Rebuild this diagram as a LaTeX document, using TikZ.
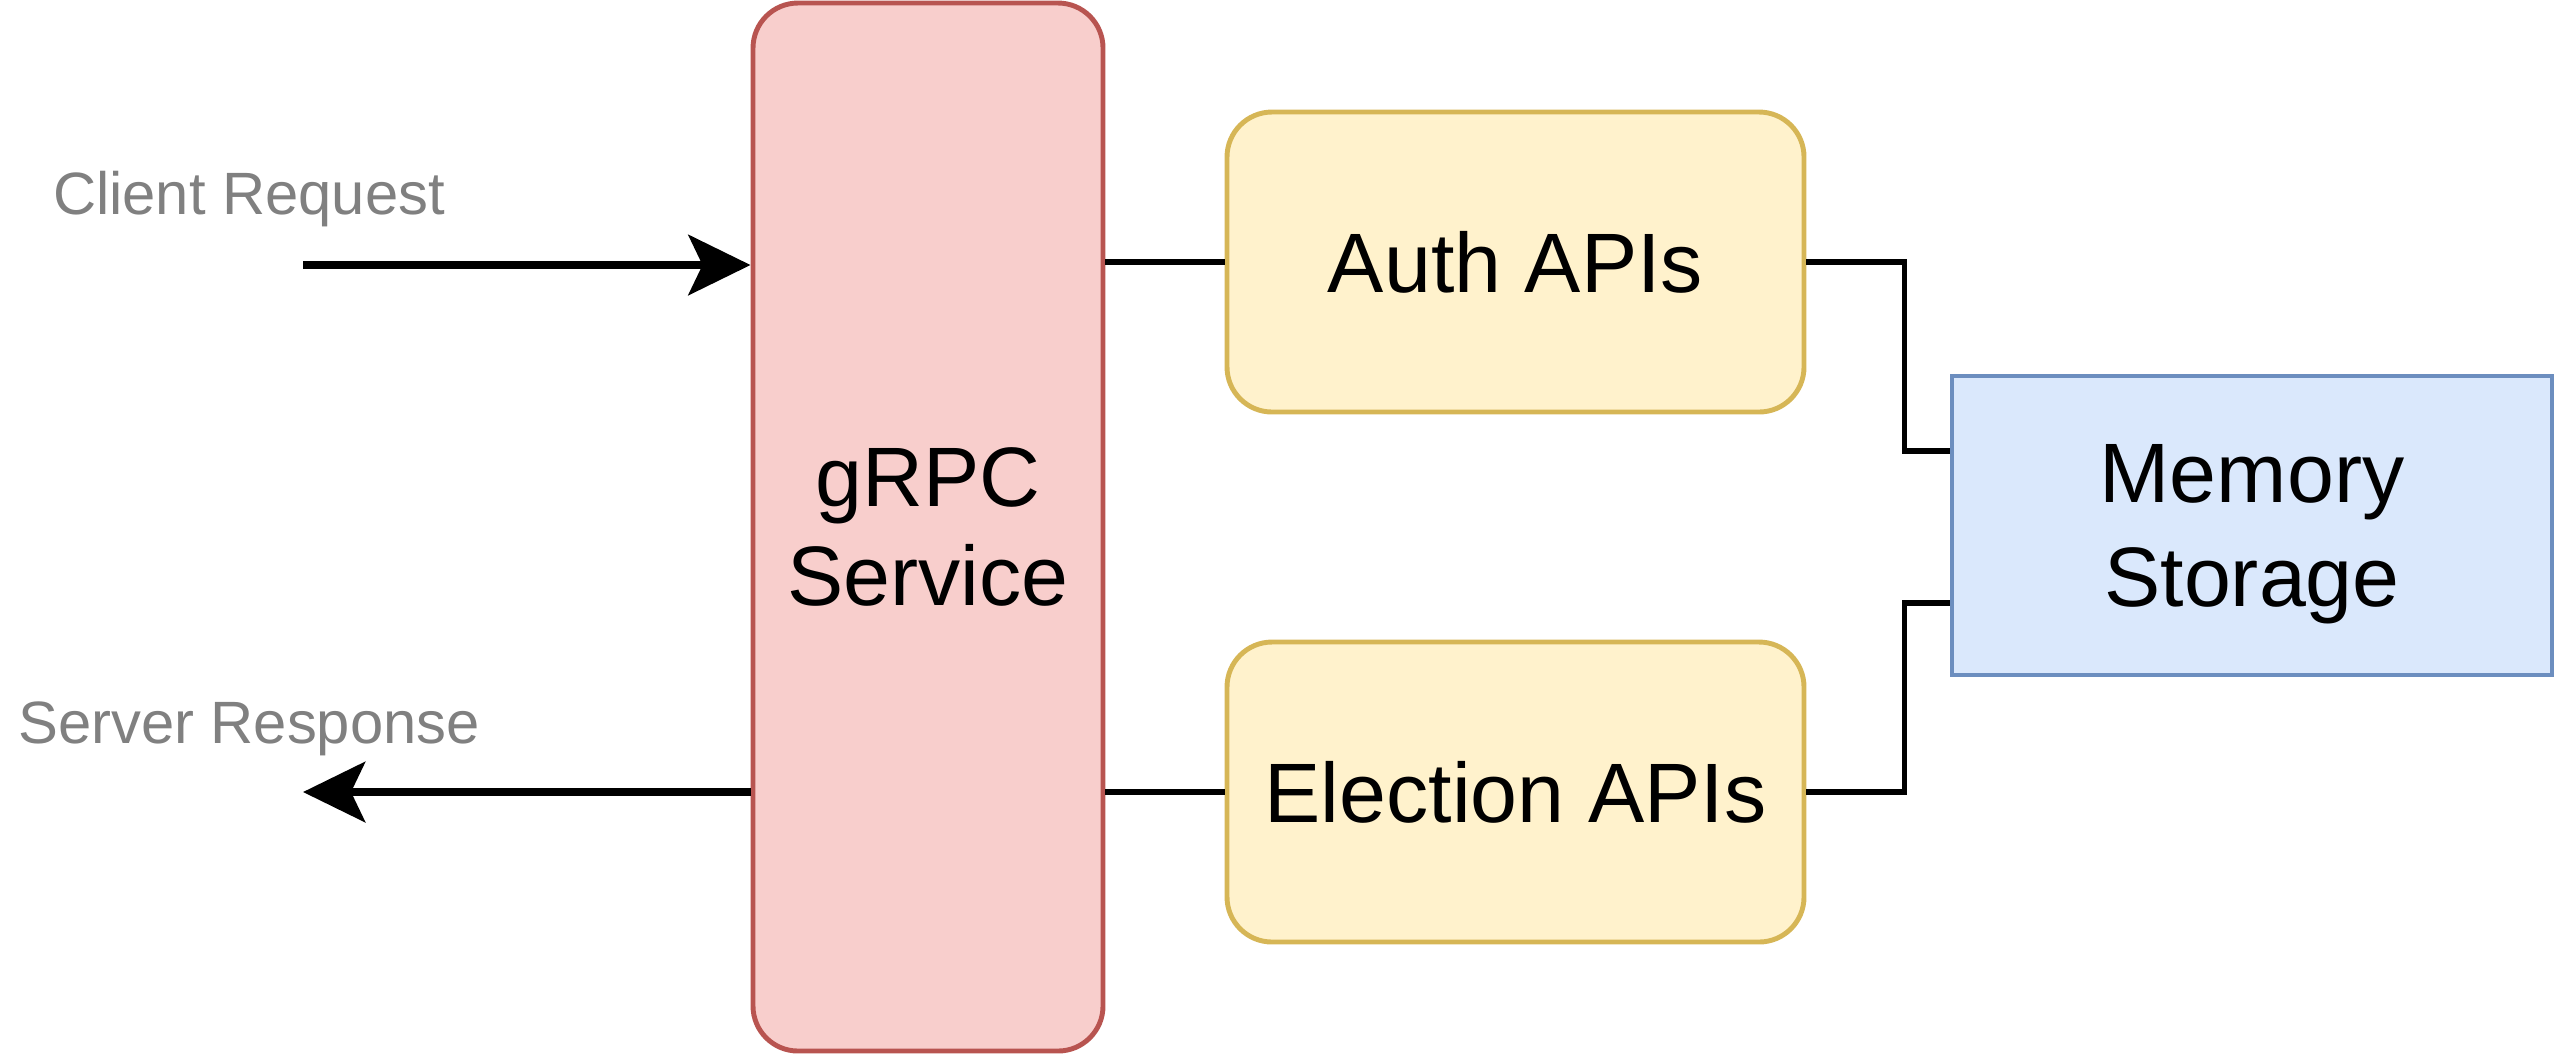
\documentclass[tikz,border=0pt]{standalone}
\usepackage{fontspec}
\setsansfont{Liberation Sans}
\usepackage{tikz}
\usetikzlibrary{arrows.meta, positioning, calc}
\definecolor{grpcred}{RGB}{184,84,80}
\definecolor{grpcredfill}{RGB}{248,206,204}
\definecolor{apiyellow}{RGB}{214,182,86}
\definecolor{apiyellowfill}{RGB}{255,242,204}
\definecolor{memblue}{RGB}{108,142,191}
\definecolor{membluefill}{RGB}{218,232,252}
\definecolor{notegray}{RGB}{128,128,128}
\tikzset{
  service/.style={
    draw=grpcred,
    rounded corners=4.5mm,
    line width=1.4pt,
    fill=grpcredfill,
    align=center,
    minimum width=3.5cm,
    minimum height=10.48cm,
    inner sep=0pt,
    font=\sffamily\fontsize{24}{28}\selectfont
  },
  apiblock/.style={
    draw=apiyellow,
    rounded corners=4.5mm,
    line width=1.4pt,
    fill=apiyellowfill,
    align=center,
    minimum width=5.77cm,
    minimum height=3.0cm,
    inner sep=0pt,
    font=\sffamily\fontsize{24}{28}\selectfont
  },
  storeblock/.style={
    draw=memblue,
    line width=1.4pt,
    fill=membluefill,
    align=center,
    minimum width=6.0cm,
    minimum height=2.99cm,
    inner sep=0pt,
    text depth=0pt,
    font=\sffamily\fontsize{24}{29.5}\selectfont
  },
  note/.style={text=notegray, inner sep=0pt, font=\sffamily\fontsize{17}{20}\selectfont},
  link/.style={line width=1.5pt, draw=black},
  flow/.style={-{Stealth[length=6.2mm, width=6mm, inset=1.4mm]}, line width=2.5pt, draw=black}
}
\begin{document}
\begin{tikzpicture}[x=1cm,y=1cm]
    \useasboundingbox (0,0) rectangle (25.55,-10.55);
    \node[service] (grpc) at (9.28,-5.27) {gRPC\\Service};
    \node[apiblock] (auth) at (15.155,-2.62) {Auth APIs};
    \node[apiblock] (election) at (15.155,-7.92) {Election APIs};
    \node[storeblock] (memory) at (22.52,-5.255) {Memory\\Storage};
    \node[note] (reqlabel) at (2.49,-1.99) {Client Request};
    \node[note] (resplabel) at (2.49,-7.29) {Server Response};
    \coordinate (reqstart) at (3.03,-2.65);
    \coordinate (respend) at (3.03,-7.92);

    \draw[flow] (reqstart) -- (reqstart -| grpc.west);
    \draw[flow] (respend -| grpc.west) -- (respend);

    \draw[link] (grpc.east |- auth.west) -- (auth.west);
    \draw[link] (grpc.east |- election.west) -- (election.west);
    \draw[link] (auth.east) -- ++(0.98,0) |- ($(memory.west)+(0,0.745)$);
    \draw[link] (election.east) -- ++(0.98,0) |- ($(memory.west)+(0,-0.775)$);
  \end{tikzpicture}
\end{document}
